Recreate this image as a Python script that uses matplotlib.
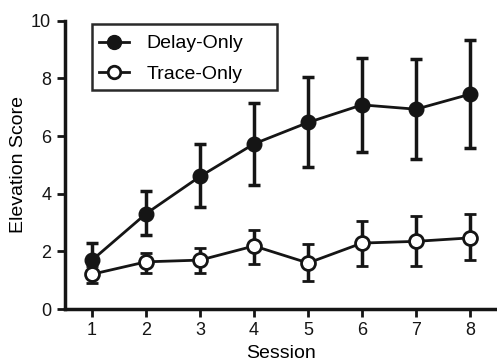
import numpy as np
import matplotlib
matplotlib.use("Agg")
import matplotlib.pyplot as plt
from matplotlib.lines import Line2D
from matplotlib.patches import Rectangle

plt.rcParams['font.family'] = ['Liberation Sans', 'DejaVu Sans']

sessions = [1, 2, 3, 4, 5, 6, 7, 8]

delay_mean = [1.70, 3.31, 4.60, 5.73, 6.47, 7.08, 6.93, 7.45]
delay_top = [2.29, 4.08, 5.71, 7.15, 8.05, 8.71, 8.67, 9.33]
delay_bot = [1.12, 2.56, 3.54, 4.31, 4.91, 5.46, 5.22, 5.57]

trace_mean = [1.21, 1.64, 1.70, 2.19, 1.60, 2.29, 2.35, 2.47]
trace_top = [1.50, 1.96, 2.12, 2.76, 2.25, 3.06, 3.22, 3.29]
trace_bot = [0.92, 1.27, 1.27, 1.58, 0.97, 1.51, 1.51, 1.70]

c = '#151515'

fig = plt.figure(figsize=(4.97, 3.62), dpi=100)
ax = fig.add_axes([0.131, 0.146, 0.869, 0.797])

def errs(m, top, bot):
    m = np.array(m)
    return [m - np.array(bot), np.array(top) - m]

ax.errorbar(sessions, delay_mean, yerr=errs(delay_mean, delay_top, delay_bot),
            color=c, lw=2, marker='o', ms=10.5, mfc=c, mec=c,
            elinewidth=2.5, capsize=4.5, capthick=2.5, zorder=3)
ax.errorbar(sessions, trace_mean, yerr=errs(trace_mean, trace_top, trace_bot),
            color=c, lw=2, marker='o', ms=10, mfc='white', mec=c, mew=2,
            elinewidth=2.5, capsize=4.5, capthick=2.5, zorder=4)

ax.set_xlim(0.5, 8.5)
ax.set_ylim(0, 10)
ax.set_xticks(sessions)
ax.set_yticks([0, 2, 4, 6, 8, 10])
ax.spines['top'].set_visible(False)
ax.spines['right'].set_visible(False)
for s in ['left', 'bottom']:
    ax.spines[s].set_linewidth(2.5)
    ax.spines[s].set_color(c)
ax.tick_params(direction='out', length=6, width=2, colors=c, labelsize=13)
ax.tick_params(axis='x', pad=3.5)
ax.tick_params(axis='y', pad=4)
ax.set_xlabel('Session', fontsize=14, labelpad=4)
ax.set_ylabel('Elevation Score', fontsize=14, labelpad=3)

handles = [Line2D([], [], color=c, lw=2, marker='o', ms=10, mfc=c, mec=c),
           Line2D([], [], color=c, lw=2, marker='o', ms=9, mfc='white', mec=c, mew=2)]
leg = fig.legend(handles, ['Delay-Only', 'Trace-Only'], loc='upper left',
                 bbox_to_anchor=(0.199, 0.904), fontsize=14, frameon=False,
                 handlelength=1.55, handletextpad=0.9, labelspacing=0.65,
                 borderpad=0, borderaxespad=0)
fig.add_artist(Rectangle((0.185, 0.751), 0.372, 0.182, transform=fig.transFigure,
                         fill=False, ec='#2a2a2a', lw=1.8))

fig.savefig('out.png', dpi=100)
